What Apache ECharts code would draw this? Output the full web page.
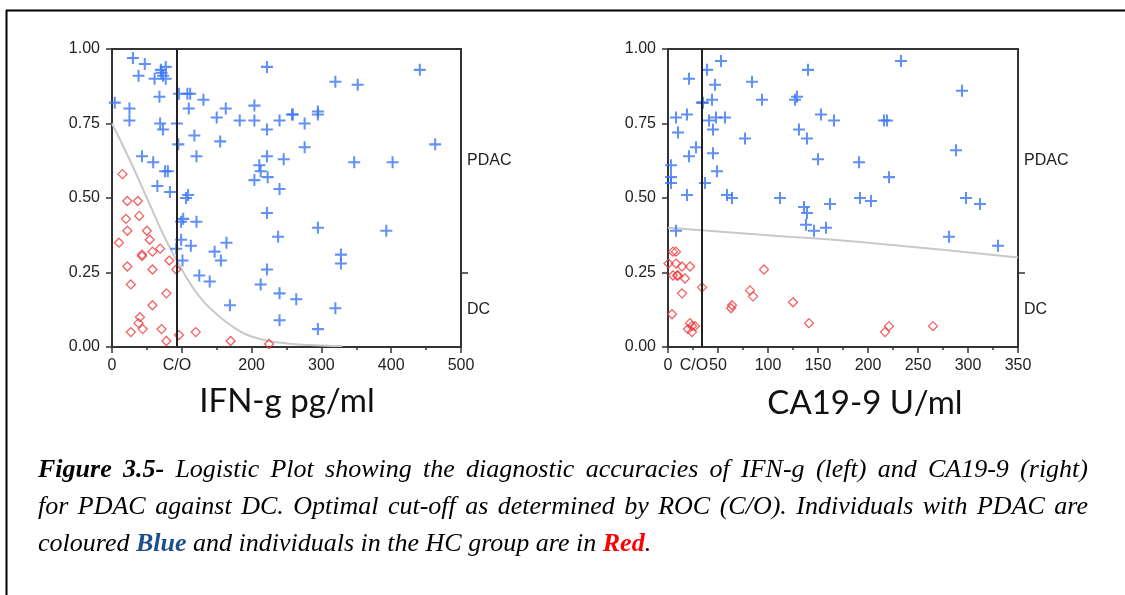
<!DOCTYPE html>
<html><head><meta charset="utf-8">
<script src="https://cdn.jsdelivr.net/npm/echarts@6/dist/echarts.min.js"></script>
<style>html,body{margin:0;padding:0;background:#fff}#c{width:1125px;height:595px}</style>
</head><body><div id="c"></div>
<script>
// ---------- DATA ----------
const classLabels = ['DC', 'PDAC'];
const axisTitles = ['IFN-g pg/ml', 'CA19-9 U/ml'];
const cutoffLabel = 'C/O';
const ifnCutoff = 93;
const caCutoff = 34;
const ifnXTicks = [0, 100, 200, 300, 400, 500];
const caXTicks = [0, 50, 100, 150, 200, 250, 300, 350];

const ifnPdac = [[30,0.97],[47,0.95],[38,0.91],[61,0.90],[70,0.93],[77,0.94],[73,0.91],[77,0.90],[71,0.92],[4,0.82],[25,0.80],[25,0.76],[68,0.84],[69,0.75],[73,0.73],[93,0.75],[96,0.85],[108,0.85],[112,0.85],[131,0.83],[110,0.80],[95,0.68],[118,0.71],[121,0.64],[155,0.69],[150,0.77],[163,0.80],[183,0.76],[204,0.81],[204,0.76],[222,0.73],[240,0.76],[258,0.78],[222,0.94],[43,0.64],[59,0.62],[76,0.59],[80,0.59],[65,0.54],[83,0.52],[109,0.51],[106,0.50],[222,0.64],[211,0.61],[213,0.59],[246,0.63],[204,0.56],[223,0.57],[240,0.53],[102,0.43],[99,0.42],[121,0.42],[222,0.45],[238,0.37],[99,0.36],[92,0.33],[113,0.34],[147,0.32],[164,0.35],[101,0.29],[156,0.29],[222,0.26],[125,0.24],[140,0.22],[213,0.21],[240,0.18],[264,0.16],[169,0.14],[240,0.09],[441,0.93],[320,0.89],[352,0.88],[259,0.78],[276,0.75],[295,0.79],[295,0.78],[276,0.67],[347,0.62],[402,0.62],[463,0.68],[295,0.40],[393,0.39],[328,0.31],[328,0.28],[320,0.13],[295,0.06]];
const ifnDc = [[15,0.58],[22,0.49],[37,0.49],[39,0.44],[20,0.43],[22,0.39],[50,0.39],[54,0.36],[10,0.35],[43,0.31],[43,0.305],[58,0.32],[69,0.33],[82,0.29],[92,0.26],[22,0.27],[58,0.26],[27,0.21],[78,0.18],[58,0.14],[40,0.10],[38,0.08],[27,0.05],[44,0.06],[71,0.06],[78,0.02],[96,0.04],[120,0.05],[170,0.02],[225,0.01]];
const ifnCurve = [[0,0.75],[25,0.63],[50,0.5],[75,0.37],[100,0.26],[125,0.17],[150,0.11],[175,0.065],[200,0.035],[250,0.012],[300,0.005],[330,0.003]];

const caPdac = [[53,0.96],[39,0.93],[21,0.90],[47,0.88],[84,0.89],[140,0.93],[44,0.83],[34,0.82],[35,0.82],[94,0.83],[127,0.83],[129,0.84],[8,0.77],[19,0.78],[10,0.72],[41,0.76],[48,0.77],[57,0.77],[45,0.73],[77,0.70],[131,0.73],[139,0.70],[153,0.78],[166,0.76],[150,0.63],[28,0.67],[21,0.64],[45,0.65],[3,0.61],[3,0.57],[3,0.55],[49,0.59],[37,0.55],[19,0.51],[59,0.51],[64,0.50],[112,0.50],[136,0.47],[139,0.45],[162,0.48],[138,0.41],[146,0.39],[158,0.40],[8,0.39],[233,0.96],[294,0.86],[216,0.76],[219,0.76],[288,0.66],[191,0.62],[221,0.57],[192,0.50],[203,0.49],[298,0.50],[312,0.48],[281,0.37],[330,0.34]];
const caDc = [[5,0.32],[8,0.32],[0.5,0.28],[8,0.28],[14,0.27],[22,0.27],[5,0.24],[9,0.24],[10,0.24],[17,0.23],[14,0.18],[34,0.20],[96,0.26],[82,0.19],[85,0.17],[125,0.15],[64,0.14],[63,0.13],[4,0.11],[141,0.08],[22,0.08],[24,0.07],[20,0.06],[27,0.07],[24,0.05],[221,0.07],[217,0.05],[265,0.07]];
const caCurve = [[0,0.40],[100,0.375],[200,0.35],[350,0.30]];

const captionLines = [
  [['Figure 3.5-','b'],[' Logistic Plot showing the diagnostic accuracies of IFN-g (left) and CA19-9 (right)','n']],
  [['for PDAC against DC. Optimal cut-off as determined by ROC (C/O). Individuals with PDAC are','n']],
  [['coloured ','n'],['Blue','blue'],[' and individuals in the HC group are in ','n'],['Red','red'],['.','n']]
];

// ---------- STYLE ----------
const BLUE = '#3a74f5', RED = '#f0383c', AX = '#333', LBL = '#222';
const PLUS = 'path://M4.15,0H5.85V4.15H10V5.85H5.85V10H4.15V5.85H0V4.15H4.15Z';
const tickFont = {fontSize:16, color:LBL, fontFamily:'Liberation Sans, Arial, sans-serif'};

const grids = [
  {left:112, top:49, width:349, height:298},
  {left:668, top:49, width:350, height:298}
];

function xBottom(gi, ticks, cut, minorSplit, coShift) {
  const labels = ticks.filter(v => Math.abs(v - cut) > (ticks[1]-ticks[0]) * 0.3).concat([cut]).sort((a,b)=>a-b);
  return {type:'value', gridIndex:gi, min:ticks[0], max:ticks[ticks.length-1], interval:ticks[1]-ticks[0], position:'bottom',
    axisLine:{show:true, onZero:false, lineStyle:{color:AX, width:2}},
    axisTick:{show:true, customValues:ticks, length:6, lineStyle:{color:AX, width:1.5}},
    minorTick:{show:true, splitNumber:minorSplit, length:3, lineStyle:{color:AX, width:1.5}},
    splitLine:{show:false}, minorSplitLine:{show:false},
    axisLabel:Object.assign({customValues:labels, margin:11, hideOverlap:false,
      formatter:v => v === cut ? '{co|' + cutoffLabel + '}' : String(v),
      rich:{co:Object.assign({padding:[0, coShift, 0, 0]}, tickFont)}}, tickFont)};
}
function xTop(gi, ticks) {
  return {type:'value', gridIndex:gi, min:ticks[0], max:ticks[ticks.length-1], position:'top',
    axisLine:{show:true, onZero:false, lineStyle:{color:AX, width:2}},
    axisTick:{show:false}, axisLabel:{show:false}, splitLine:{show:false}};
}
function yLeft(gi) {
  return {type:'value', gridIndex:gi, min:0, max:1, interval:0.25, position:'left',
    axisLine:{show:true, onZero:false, lineStyle:{color:AX, width:2}},
    axisTick:{show:true, length:6, lineStyle:{color:AX, width:1.5}},
    splitLine:{show:false},
    axisLabel:Object.assign({margin:12, formatter:v => v.toFixed(2)}, tickFont)};
}
function yRight(gi) {
  return {type:'value', gridIndex:gi, min:0, max:1, position:'right',
    axisLine:{show:true, onZero:false, lineStyle:{color:AX, width:2}},
    axisTick:{show:true, customValues:[0.25], length:7, lineStyle:{color:AX, width:1.5}},
    splitLine:{show:false},
    axisLabel:Object.assign({customValues:[0.125, 0.625], margin:6,
      formatter:v => v > 0.25 ? classLabels[1] : classLabels[0]}, tickFont)};
}

function plotSeries(xi, yi, curve, cut, pdac, dc) {
  return [
    {type:'line', xAxisIndex:xi, yAxisIndex:yi, data:curve, smooth:true, symbol:'none', silent:true,
     lineStyle:{color:'#c8c8c8', width:2}, z:1,
     markLine:{silent:true, symbol:['none','none'], label:{show:false},
       lineStyle:{color:'#222', width:2, type:'solid'}, data:[{xAxis:cut}]}},
    {type:'scatter', xAxisIndex:xi, yAxisIndex:yi, data:dc, symbol:'diamond', symbolSize:9,
     itemStyle:{color:'rgba(255,255,255,0)', borderColor:RED, borderWidth:1.3}, z:3},
    {type:'scatter', xAxisIndex:xi, yAxisIndex:yi, data:pdac, symbol:PLUS, symbolSize:12,
     itemStyle:{color:BLUE}, z:4}
  ];
}

// ---------- CAPTION LAYOUT (justified words) ----------
const CAP_SIZE = 26, CAP_X = 38, CAP_W = 1050, CAP_Y = [470, 507, 544];
const capStyles = {
  n:{fontWeight:'normal', fill:'#000'},
  b:{fontWeight:'bold', fill:'#000'},
  blue:{fontWeight:'bold', fill:'#1f4e8c'},
  red:{fontWeight:'bold', fill:'#ff0000'}
};
const mctx = document.createElement('canvas').getContext('2d');
function measure(t, st, size) {
  mctx.font = 'italic ' + capStyles[st].fontWeight + ' ' + size + 'px "Liberation Serif"';
  return mctx.measureText(t).width;
}
const captionEls = [];
captionLines.forEach((segs, li) => {
  const tokens = []; let cur = [];
  segs.forEach(([txt, st]) => {
    const parts = txt.split(' ');
    parts.forEach((p, i) => {
      if (i > 0) { if (cur.length) tokens.push(cur); cur = []; }
      if (p) cur.push([p, st]);
    });
  });
  if (cur.length) tokens.push(cur);
  const justify = li < captionLines.length - 1;
  let size = CAP_SIZE;
  const widthAt = s => tokens.map(tk => tk.reduce((a, [p, st]) => a + measure(p, st, s), 0));
  let widths = widthAt(size);
  let total = widths.reduce((a, b) => a + b, 0);
  while (justify && total + (tokens.length - 1) * size * 0.18 > CAP_W && size > 18) {
    size -= 0.5; widths = widthAt(size); total = widths.reduce((a, b) => a + b, 0);
  }
  const gap = justify ? (CAP_W - total) / (tokens.length - 1) : measure(' ', 'n', size);
  let x = CAP_X;
  tokens.forEach((tk, ti) => {
    let px = x;
    tk.forEach(([p, st]) => {
      captionEls.push({type:'text', x:px, y:CAP_Y[li], silent:true,
        style:{text:p, fill:capStyles[st].fill, fontStyle:'italic', fontWeight:capStyles[st].fontWeight,
          fontSize:size, fontFamily:'Liberation Serif', verticalAlign:'middle', align:'left'}});
      px += measure(p, st, size);
    });
    x += widths[ti] + gap;
  });
});

const chart = echarts.init(document.getElementById('c'), null, {renderer:'canvas'});
chart.setOption({
  animation:false,
  backgroundColor:'#fff',
  grid:grids,
  xAxis:[xBottom(0, ifnXTicks, ifnCutoff, 2, 0), xTop(0, ifnXTicks), xBottom(1, caXTicks, caCutoff, 2, 16), xTop(1, caXTicks)],
  yAxis:[yLeft(0), yRight(0), yLeft(1), yRight(1)],
  series:[].concat(
    plotSeries(0, 0, ifnCurve, ifnCutoff, ifnPdac, ifnDc),
    plotSeries(2, 2, caCurve, caCutoff, caPdac, caDc)
  ),
  graphic:[
    {type:'line', silent:true, shape:{x1:6, y1:10.5, x2:1125, y2:10.5}, style:{stroke:'#000', lineWidth:2}},
    {type:'line', silent:true, shape:{x1:6.5, y1:10, x2:6.5, y2:595}, style:{stroke:'#000', lineWidth:2}},
    {type:'text', x:287, y:401, silent:true, style:{text:axisTitles[0], fontSize:33, fontFamily:'Lato', fill:'#111', align:'center', verticalAlign:'middle'}},
    {type:'text', x:865, y:403, silent:true, style:{text:axisTitles[1], fontSize:33, fontFamily:'Lato', fill:'#111', align:'center', verticalAlign:'middle'}}
  ].concat(captionEls)
});
</script>
</body></html>
